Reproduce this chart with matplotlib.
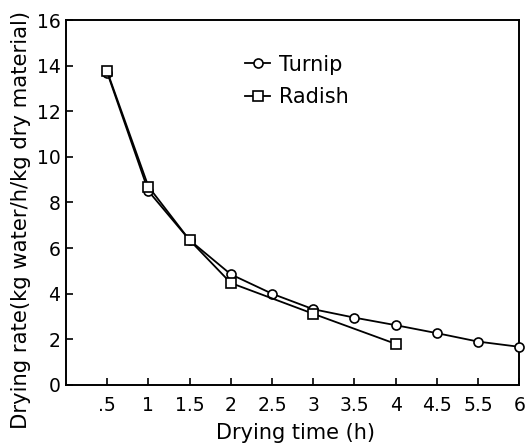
import numpy as np
import matplotlib
matplotlib.use("Agg")
import matplotlib.pyplot as plt

# drying time labels (note: the original axis has no 5)
time_labels = ['.5', '1', '1.5', '2', '2.5', '3', '3.5', '4', '4.5', '5.5', '6']

turnip_idx = [0, 1, 2, 3, 4, 5, 6, 7, 8, 9, 10]
turnip_rate = [13.7, 8.5, 6.35, 4.85, 4.0, 3.32, 2.95, 2.62, 2.27, 1.9, 1.67]

radish_idx = [0, 1, 2, 3, 5, 7]
radish_rate = [13.75, 8.7, 6.35, 4.47, 3.12, 1.8]

plt.rcParams['font.family'] = 'DejaVu Sans'

fig = plt.figure(figsize=(5.32, 4.46), dpi=100)
ax = fig.add_axes([0.124, 0.137, 0.852, 0.818])

ax.plot(turnip_idx, turnip_rate, '-o', color='black', lw=1.3, ms=6.5,
        mfc='white', mec='black', mew=1.2, label='Turnip', clip_on=False, zorder=3)
ax.plot(radish_idx, radish_rate, '-s', color='black', lw=1.3, ms=6.5,
        mfc='white', mec='black', mew=1.2, label='Radish', clip_on=False, zorder=3)

ax.set_xlim(-1, 10)
ax.set_ylim(0, 16)
ax.set_xticks(range(len(time_labels)))
ax.set_xticklabels(time_labels)
ax.set_yticks(np.arange(0, 17, 2))

ax.tick_params(direction='in', length=5, width=1.2, labelsize=13.5)
ax.tick_params(axis='x', pad=8)
ax.tick_params(axis='y', pad=4)
for s in ax.spines.values():
    s.set_linewidth(1.4)

ax.set_xlabel('Drying time (h)', fontsize=15)
ax.set_ylabel('Drying rate(kg water/h/kg dry material)', fontsize=15.2)
ax.xaxis.set_label_coords(0.5065, -0.104)
ax.yaxis.set_label_coords(-0.078, 0.452)

ax.legend(loc='upper left', bbox_to_anchor=(0.395, 0.905), frameon=False,
          fontsize=15, handlelength=1.2, handletextpad=0.45, labelspacing=0.6,
          borderpad=0, borderaxespad=0)

fig.savefig('out.png', dpi=100)
